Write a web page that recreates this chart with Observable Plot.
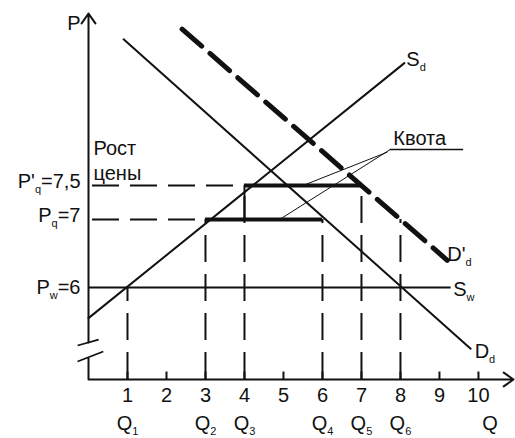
<!DOCTYPE html>
<html><head><meta charset="utf-8">
<script src="https://cdn.jsdelivr.net/npm/d3@7"></script>
<script src="https://cdn.jsdelivr.net/npm/@observablehq/plot@0.6"></script>
<style>body{margin:0;background:#fff}svg{display:block}</style>
</head><body><div id="chart"></div>
<script>
// ---- data ----
const qTicks = [1, 2, 3, 4, 5, 6, 7, 8, 9, 10];
const qMarks = [
  {q: 1, label: "Q_{1}", top: 6},
  {q: 3, label: "Q_{2}", top: 7},
  {q: 4, label: "Q_{3}", top: 7.5},
  {q: 6, label: "Q_{4}", top: 7},
  {q: 7, label: "Q_{5}", top: 7.5},
  {q: 8, label: "Q_{6}", top: 7.0}
];
const priceWorld = 6;       // Pw
const priceQuota = 7;       // Pq
const priceQuotaNew = 7.5;  // P'q
const axisBase = 4.647;     // price level where the Q axis is drawn (axis is broken)
const pTop = 10.03;

const supplyDomestic = [{q: 0, p: 5.55}, {q: 8.1, p: 9.3}];   // S_d
const demandDomestic = [{q: 0.9, p: 9.65}, {q: 9.8, p: 5.1}]; // D_d
const demandShifted  = [{q: 2.4, p: 9.8}, {q: 9.2, p: 6.4}];  // D'_d
const worldSupplyEnd = 9.3;                                    // S_w right end
const quotaLow  = {q1: 3, q2: 6, p: priceQuota};
const quotaHigh = {q1: 4, q2: 7, p: priceQuotaNew};
const quotaLabel = {q: 7.74, p: 8.03, qEnd: 9.62};
const quotaLeaders = [
  {q1: 7.74, p1: 8.03, q2: 4.9, p2: 7},
  {q1: 7.66, p1: 7.99, q2: 5.5, p2: 7.5}
];
const axisBreak = [
  {q1: -0.28, p1: 5.147, q2: 0.26, p2: 5.235},
  {q1: -0.28, p1: 4.912, q2: 0.38, p2: 5.059}
];
const axisGap = [4.956, 5.19];

const priceLabels = [
  {p: priceQuotaNew, text: "P'_{q}=7,5", dy: -4},
  {p: priceQuota, text: "P_{q}=7", dy: -4},
  {p: priceWorld, text: "P_{w}=6", dy: 0}
];
const riseLabel = [{text: "Рост", dy: -37}, {text: "цены", dy: -12}];
const curveLabels = [
  {q: 8.1, p: 9.3, text: "S_{d}", dx: 2, dy: -4},
  {q: 9.2, p: 6.4, text: "D'_{d}", dx: 0, dy: -6},
  {q: 9.3, p: 6, text: "S_{w}", dx: 2, dy: 2},
  {q: 9.8, p: 5.1, text: "D_{d}", dx: 4, dy: 3}
];

const font = "'Liberation Sans', Arial, Helvetica, sans-serif";
const ink = "#111";

const plot = Plot.plot({
  width: 515, height: 438,
  marginLeft: 88, marginRight: 0, marginTop: 13, marginBottom: 59,
  x: {domain: [0, 10.95], axis: null},
  y: {domain: [axisBase, pTop], axis: null},
  style: {fontFamily: font, fontSize: "20px", color: ink, background: "#fff"},
  marks: [
    // axes
    Plot.arrow([0], {x1: 0, y1: axisGap[1], x2: 0, y2: pTop, stroke: ink, strokeWidth: 2, headLength: 9, headAngle: 70}),
    Plot.ruleX([0], {x: 0, y1: axisBase, y2: axisGap[0], stroke: ink, strokeWidth: 2}),
    Plot.link(axisBreak, {x1: "q1", y1: "p1", x2: "q2", y2: "p2", stroke: ink, strokeWidth: 1.8}),
    Plot.arrow([0], {x1: 0, y1: axisBase, x2: 10.9, y2: axisBase, stroke: ink, strokeWidth: 2, headLength: 9, headAngle: 70}),
    Plot.ruleX(qTicks, {x: d => d, y1: axisBase, y2: axisBase + 0.11, stroke: ink, strokeWidth: 2}),
    Plot.text(qTicks, {x: d => d, y: axisBase, dy: 16, text: d => String(d), fill: ink}),
    Plot.text(qMarks, {x: "q", y: axisBase, dy: 44, text: "label", fill: ink}),
    Plot.text(["Q"], {x: 10.3, y: axisBase, dy: 44, text: d => d, fill: ink}),
    Plot.text(["P"], {x: 0, y: pTop, dx: -8, dy: 10, text: d => d, textAnchor: "end", fill: ink}),

    // dashed guides
    Plot.ruleX(qMarks, {x: "q", y1: axisBase, y2: "top", stroke: ink, strokeWidth: 2, strokeDasharray: "27,12"}),
    Plot.ruleY([priceQuotaNew], {y: d => d, x1: 0, x2: quotaHigh.q1, stroke: ink, strokeWidth: 2, strokeDasharray: "27,11", dx: 4}),
    Plot.ruleY([priceQuota], {y: d => d, x1: 0, x2: quotaLow.q1, stroke: ink, strokeWidth: 2, strokeDasharray: "27,11", dx: 4}),

    // world supply
    Plot.ruleY([priceWorld], {y: d => d, x1: 0, x2: worldSupplyEnd, stroke: ink, strokeWidth: 2}),

    // curves
    Plot.line(supplyDomestic, {x: "q", y: "p", stroke: ink, strokeWidth: 2}),
    Plot.line(demandDomestic, {x: "q", y: "p", stroke: ink, strokeWidth: 2}),
    Plot.line(demandShifted, {x: "q", y: "p", stroke: ink, strokeWidth: 5, strokeDasharray: "26,11"}),

    // quota segments
    Plot.ruleY([quotaLow], {y: "p", x1: "q1", x2: "q2", stroke: ink, strokeWidth: 4}),
    Plot.ruleY([quotaHigh], {y: "p", x1: "q1", x2: "q2", stroke: ink, strokeWidth: 4}),
    Plot.ruleX([quotaHigh.q1], {x: d => d, y1: priceQuota, y2: priceQuotaNew, stroke: ink, strokeWidth: 2}),

    // quota label
    Plot.link(quotaLeaders, {x1: "q1", y1: "p1", x2: "q2", y2: "p2", stroke: ink, strokeWidth: 1}),
    Plot.ruleY([quotaLabel], {y: "p", x1: "q", x2: "qEnd", stroke: ink, strokeWidth: 1.3}),
    Plot.text([quotaLabel], {x: "q", y: "p", dx: 3, dy: -11, text: () => "Квота", textAnchor: "start", fill: ink}),

    // left labels
    ...priceLabels.map(l => Plot.text([l], {x: 0, y: "p", dx: -8, dy: l.dy, text: "text", textAnchor: "end", fill: ink})),
    ...riseLabel.map(l => Plot.text([l], {x: 0, y: priceQuotaNew, dx: 5, dy: l.dy, text: "text", textAnchor: "start", fill: ink})),

    // curve labels
    ...curveLabels.map(l => Plot.text([l], {x: "q", y: "p", dx: l.dx, dy: l.dy, text: "text", textAnchor: "start", fill: ink}))
  ]
});

// rich text: _{x} -> subscript
plot.querySelectorAll("text").forEach(t => {
  const s = t.textContent;
  if (!s.includes("_{")) return;
  const parts = [];
  let last = 0; const re = /_\{([^}]*)\}/g; let m;
  while ((m = re.exec(s))) {
    if (m.index > last) parts.push({t: s.slice(last, m.index), sub: false});
    parts.push({t: m[1], sub: true});
    last = re.lastIndex;
  }
  if (last < s.length) parts.push({t: s.slice(last), sub: false});
  t.textContent = "";
  let shifted = false;
  parts.forEach(p => {
    const ts = document.createElementNS("http://www.w3.org/2000/svg", "tspan");
    ts.textContent = p.t;
    if (p.sub) { ts.setAttribute("dy", 5); ts.setAttribute("font-size", "11px"); shifted = true; }
    else if (shifted) { ts.setAttribute("dy", -5); shifted = false; }
    t.appendChild(ts);
  });
});
document.getElementById("chart").appendChild(plot);
</script>
</body></html>
